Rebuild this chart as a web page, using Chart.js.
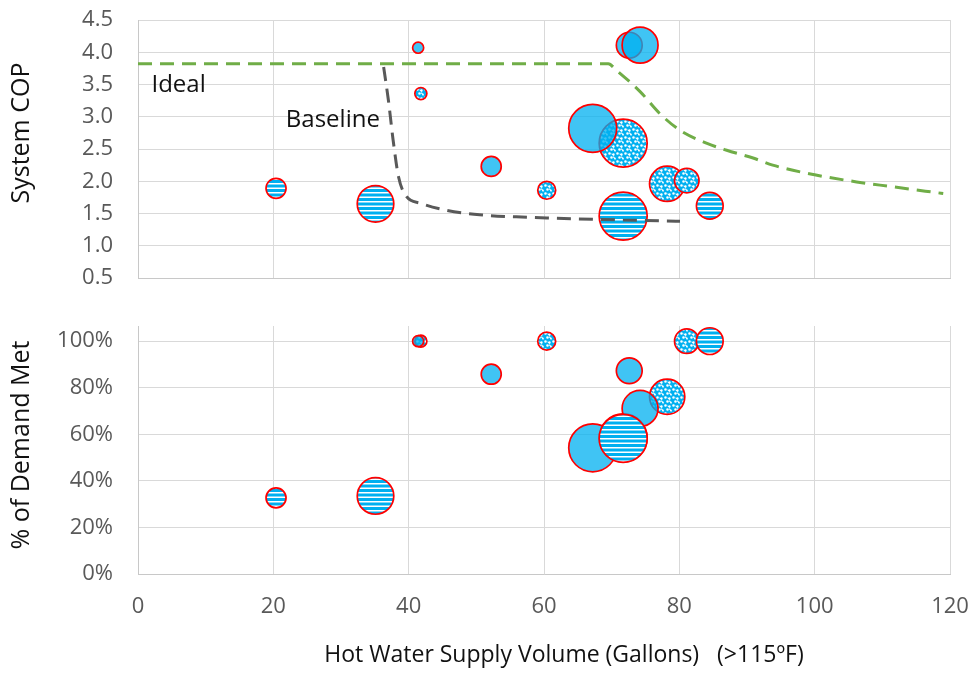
<!DOCTYPE html>
<html>
<head>
<meta charset="utf-8">
<script src="https://cdn.jsdelivr.net/npm/chart.js@4"></script>
<style>
  html, body { margin: 0; padding: 0; background: #fff; }
  #wrap { position: relative; width: 973px; height: 673px; }
  canvas { position: absolute; left: 0; }
  #cop { top: 0; }
  #demand { top: 300px; }
</style>
</head>
<body>
<div id="wrap">
  <canvas id="cop" width="973" height="300"></canvas>
  <canvas id="demand" width="973" height="373"></canvas>
</div>
<script>
// one entry per tested system
const supplyVolume = [41.4, 41.8, 20.4, 35.1, 52.2, 60.4, 72.6, 74.2, 67.2, 71.7, 78.2, 81.1, 71.7, 84.5];
const systemCop = [4.07, 3.36, 1.89, 1.65, 2.23, 1.86, 4.11, 4.11, 2.82, 2.59, 1.96, 2.01, 1.46, 1.62];
const demandMet = [1.0, 1.0, 0.327, 0.335, 0.858, 1.0, 0.873, 0.711, 0.542, 0.585, 0.761, 1.0, 0.582, 1.0];
const bubbleSize = [5.3, 6.3, 17.4, 58, 17.4, 14, 29, 56, 100, 100, 54, 26, 100, 31];
const fillType = ['solid', 'dots', 'stripes', 'stripes', 'solid', 'dots', 'solid', 'solid', 'solid', 'dots', 'dots', 'dots', 'stripes', 'stripes'];

// reference curves
const idealVolume = [0, 69.5, 70.7, 74.2, 77.1, 80.1, 84.0, 87.0, 90.9, 93.8, 100.0, 106.2, 111.1, 119.0];
const idealCop = [3.82, 3.82, 3.72, 3.39, 3.05, 2.79, 2.59, 2.48, 2.36, 2.25, 2.10, 1.99, 1.92, 1.81];
const baselineVolume = [36.3, 37.0, 37.7, 38.5, 39.7, 41.7, 45.6, 50.5, 57.9, 60.4, 71.7, 80.1];
const baselineCop = [3.77, 3.26, 2.64, 2.07, 1.76, 1.66, 1.55, 1.48, 1.44, 1.43, 1.40, 1.38];

const curveLabels = ['Ideal', 'Baseline'];
const curveLabelVolume = [6.0, 28.8];
const curveLabelCop = [3.49, 2.95];

const xTicks = [0, 20, 40, 60, 80, 100, 120];
const copTicks = [0.5, 1.0, 1.5, 2.0, 2.5, 3.0, 3.5, 4.0, 4.5];
const demandTicks = [0, 0.2, 0.4, 0.6, 0.8, 1.0];

const BLUE = 'rgb(0,176,240)';
const MAX_R = 24;
const FONT = "'Open Sans', sans-serif";

Chart.defaults.font.family = FONT;
Chart.defaults.color = '#595959';

const makePattern = (w, h, draw) => {
  const c = document.createElement('canvas');
  c.width = w;
  c.height = h;
  const g = c.getContext('2d');
  g.fillStyle = BLUE;
  g.fillRect(0, 0, w, h);
  g.fillStyle = '#fff';
  draw(g);
  return g.createPattern(c, 'repeat');
};

const fills = {
  solid: 'rgba(0,176,240,0.75)',
  stripes: makePattern(4, 9, (g) => {
    g.fillRect(0, 3, 4, 1.5);
    g.fillRect(0, 7.5, 4, 1.5);
  }),
  dots: makePattern(8, 8, (g) => {
    g.beginPath();
    g.arc(1.5, 1.5, 1.3, 0, Math.PI * 2);
    g.arc(5.5, 2.5, 1.2, 0, Math.PI * 2);
    g.arc(3.5, 5.5, 1.3, 0, Math.PI * 2);
    g.arc(7.0, 6.5, 1.1, 0, Math.PI * 2);
    g.fill();
  }),
};

// stripes on top, then solid, then dots
const bubbleSets = (yValues) =>
  ['stripes', 'solid', 'dots'].map((type, i) => ({
    type: 'bubble',
    data: supplyVolume
      .map((x, k) => ({ x, y: yValues[k], r: MAX_R * Math.sqrt(bubbleSize[k] / 100), t: fillType[k] }))
      .filter((p) => p.t === type),
    backgroundColor: fills[type],
    borderColor: '#ff0000',
    borderWidth: 1.7,
    order: i + 1,
  }));

const curve = (xs, ys, color) => ({
  type: 'line',
  data: xs.map((x, k) => ({ x, y: ys[k] })),
  borderColor: color,
  borderWidth: 3,
  borderDash: [14, 8],
  pointRadius: 0,
  fill: false,
  cubicInterpolationMode: 'monotone',
  order: 0,
});

const curveLabelPlugin = {
  id: 'curveLabels',
  afterDatasetsDraw(chart) {
    const { ctx, scales: { x, y } } = chart;
    ctx.save();
    ctx.font = `24px ${FONT}`;
    ctx.fillStyle = '#111';
    ctx.textAlign = 'center';
    ctx.textBaseline = 'middle';
    curveLabels.forEach((t, i) => {
      ctx.fillText(t, x.getPixelForValue(curveLabelVolume[i]), y.getPixelForValue(curveLabelCop[i]));
    });
    ctx.restore();
  },
};

// axis titles, placed a little off the Chart.js default centre like the source
const axisTitlePlugin = {
  id: 'axisTitles',
  afterDraw(chart, args, opts) {
    const { ctx, chartArea } = chart;
    ctx.save();
    ctx.fillStyle = '#111';
    ctx.textAlign = 'center';
    ctx.textBaseline = 'middle';
    if (opts.y) {
      ctx.font = `25px ${FONT}`;
      ctx.translate(22, (chartArea.top + chartArea.bottom) / 2 + opts.yShift);
      ctx.rotate(-Math.PI / 2);
      ctx.fillText(opts.y, 0, 0);
      ctx.setTransform(1, 0, 0, 1, 0, 0);
    }
    if (opts.x) {
      ctx.font = `23px ${FONT}`;
      ctx.fillText(opts.x, (chartArea.left + chartArea.right) / 2 + opts.xShift, chartArea.bottom + 81);
    }
    ctx.restore();
  },
};

const gridStyle = { color: '#d9d9d9', lineWidth: 1, drawTicks: false };
const borderStyle = { color: '#c8c8c8', width: 1 };
const tickFont = { size: 22 };

const xScale = (showLabels) => ({
  type: 'linear',
  min: xTicks[0],
  max: xTicks[xTicks.length - 1],
  grid: gridStyle,
  border: borderStyle,
  afterBuildTicks: (s) => { s.ticks = xTicks.map((value) => ({ value })); },
  ticks: { display: showLabels, font: tickFont, padding: 20 },
  afterFit: (s) => {
    s.height = showLabels ? 99 : 22;
    s.paddingLeft = 0;
    s.paddingRight = 0;
  },
});

const yScale = (min, max, ticks, fmt) => ({
  min,
  max,
  grid: gridStyle,
  border: borderStyle,
  afterBuildTicks: (s) => { s.ticks = ticks.map((value) => ({ value })); },
  ticks: { font: tickFont, padding: 25, callback: fmt },
  afterFit: (s) => {
    s.width = 138;
    s.paddingTop = 0;
    s.paddingBottom = 0;
  },
});

const baseOptions = (padTop, y, showX, titles) => ({
  responsive: false,
  animation: false,
  events: [],
  layout: { autoPadding: false, padding: { top: padTop, right: 23, left: 0, bottom: 0 } },
  plugins: { legend: { display: false }, tooltip: { enabled: false }, axisTitles: titles },
  scales: { x: xScale(showX), y },
});

new Chart(document.getElementById('cop'), {
  type: 'bubble',
  data: {
    datasets: [
      curve(idealVolume, idealCop, '#70ad47'),
      curve(baselineVolume, baselineCop, '#595959'),
      ...bubbleSets(systemCop),
    ],
  },
  options: baseOptions(20, yScale(0.5, 4.5, copTicks, (v) => v.toFixed(1)), false,
    { y: 'System COP', yShift: -16 }),
  plugins: [curveLabelPlugin, axisTitlePlugin],
});

new Chart(document.getElementById('demand'), {
  type: 'bubble',
  data: { datasets: bubbleSets(demandMet) },
  options: baseOptions(26, yScale(0, 1.065, demandTicks, (v) => Math.round(v * 100) + '%'), true,
    { y: '% of Demand Met', yShift: -5, x: 'Hot Water Supply Volume (Gallons)   (>115ºF)', xShift: 20 }),
  plugins: [axisTitlePlugin],
});
</script>
</body>
</html>
